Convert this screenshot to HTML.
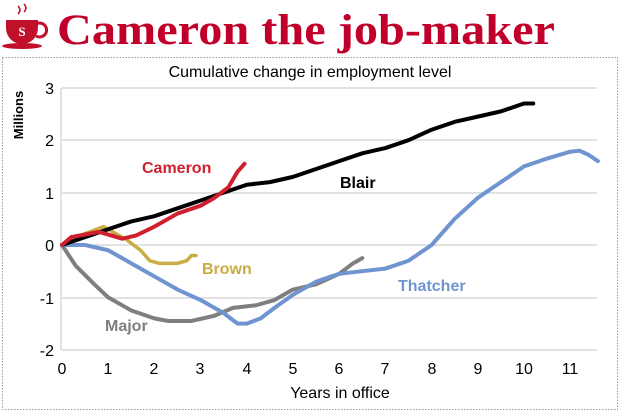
<!DOCTYPE html>
<html><head><meta charset="utf-8"><style>
body{margin:0;width:620px;height:414px;background:#fff;overflow:hidden;font-family:"Liberation Sans",sans-serif}
</style></head><body>
<svg width="620" height="414" xmlns="http://www.w3.org/2000/svg">
<rect width="620" height="414" fill="#fff"/>
<!-- cup icon -->
<g fill="#c0102a">
<path d="M6 20 h32 v8 a16 16 0 0 1 -32 0z"/>
<path d="M36 24 a7 7 0 1 1 0 12" fill="none" stroke="#c0102a" stroke-width="3"/>
<ellipse cx="22" cy="46" rx="20" ry="3"/>
<path d="M18 6 q4 4 0 8 M24 4 q4 4 0 8" stroke="#c0102a" stroke-width="1.5" fill="none"/>
</g>
<text x="22" y="36" font-family="Liberation Serif,serif" font-weight="bold" font-size="13" fill="#fff" text-anchor="middle">S</text>
<text x="57" y="44" font-family="Liberation Serif,serif" font-weight="bold" font-size="43" fill="#c0002a" textLength="498" lengthAdjust="spacingAndGlyphs">Cameron the job-maker</text>
<rect x="2.5" y="57.5" width="615" height="352" fill="none" stroke="#999" stroke-dasharray="1.5,1.5"/>
<text x="310" y="77" font-size="16" text-anchor="middle">Cumulative change in employment level</text>
<g stroke="#d9d9d9" stroke-width="1.5">
<line x1="62" y1="88" x2="597" y2="88"/><line x1="62" y1="140" x2="597" y2="140"/><line x1="62" y1="193" x2="597" y2="193"/>
<line x1="62" y1="245" x2="597" y2="245"/><line x1="62" y1="298" x2="597" y2="298"/><line x1="62" y1="350" x2="597" y2="350"/>
<line x1="61" y1="88" x2="61" y2="350"/>
</g>
<g font-size="16" text-anchor="end">
<text x="54" y="94">3</text><text x="54" y="146">2</text><text x="54" y="199">1</text><text x="54" y="251">0</text><text x="54" y="304">-1</text><text x="54" y="356">-2</text>
</g>
<text transform="translate(23,115) rotate(-90)" font-size="13" text-anchor="middle" font-weight="bold">Millions</text>
<g font-size="16" text-anchor="middle">
<text x="62" y="374">0</text><text x="108" y="374">1</text><text x="154" y="374">2</text><text x="200" y="374">3</text><text x="247" y="374">4</text><text x="293" y="374">5</text><text x="339" y="374">6</text><text x="385" y="374">7</text><text x="432" y="374">8</text><text x="478" y="374">9</text><text x="524" y="374">10</text><text x="570" y="374">11</text>
</g>
<text x="340" y="398" font-size="16" text-anchor="middle">Years in office</text>
<g transform="translate(62,245) scale(46.2,-52.4)" fill="none" stroke-linejoin="round" stroke-linecap="round">
<polyline vector-effect="non-scaling-stroke" stroke="#7f7f7f" stroke-width="4" points="0,0 0.3,-0.4 0.7,-0.75 1,-1 1.5,-1.25 2,-1.4 2.3,-1.45 2.8,-1.45 3.3,-1.35 3.7,-1.2 4.2,-1.15 4.6,-1.05 5,-0.85 5.5,-0.75 6,-0.55 6.3,-0.35 6.5,-0.25"/>
<polyline vector-effect="non-scaling-stroke" stroke="#6f94cf" stroke-width="4" points="0,0 0.5,0 1,-0.1 1.5,-0.35 2,-0.6 2.5,-0.85 3,-1.05 3.5,-1.3 3.8,-1.5 4,-1.5 4.3,-1.4 4.6,-1.2 5,-0.95 5.5,-0.7 6,-0.55 6.5,-0.5 7,-0.45 7.5,-0.3 8,0 8.5,0.5 9,0.9 9.5,1.2 10,1.5 10.5,1.65 11,1.78 11.2,1.8 11.4,1.72 11.6,1.6"/>
<polyline vector-effect="non-scaling-stroke" stroke="#c9ac45" stroke-width="3.5" points="0,0 0.3,0.15 0.6,0.25 0.9,0.35 1.1,0.25 1.4,0.1 1.7,-0.1 1.9,-0.3 2.1,-0.35 2.5,-0.35 2.7,-0.3 2.8,-0.2 2.9,-0.2"/>
<polyline vector-effect="non-scaling-stroke" stroke="#000" stroke-width="4" points="0,0 0.5,0.15 1,0.3 1.5,0.45 2,0.55 2.5,0.7 3,0.85 3.5,1 4,1.15 4.5,1.2 5,1.3 5.5,1.45 6,1.6 6.5,1.75 7,1.85 7.5,2 8,2.2 8.5,2.35 9,2.45 9.5,2.55 10,2.7 10.2,2.7"/>
<polyline vector-effect="non-scaling-stroke" stroke="#d02030" stroke-width="4" points="0,0 0.2,0.15 0.5,0.2 0.8,0.25 1,0.2 1.3,0.12 1.6,0.18 2,0.35 2.5,0.6 3,0.75 3.3,0.9 3.6,1.1 3.8,1.4 3.95,1.55"/>
</g>
<g font-size="16" font-weight="bold">
<text x="142" y="173" fill="#d02030">Cameron</text>
<text x="340" y="188" fill="#000">Blair</text>
<text x="202" y="274" fill="#c9ac45">Brown</text>
<text x="398" y="291" fill="#6f94cf">Thatcher</text>
<text x="105" y="331" fill="#7f7f7f">Major</text>
</g>
</svg>
</body></html>
